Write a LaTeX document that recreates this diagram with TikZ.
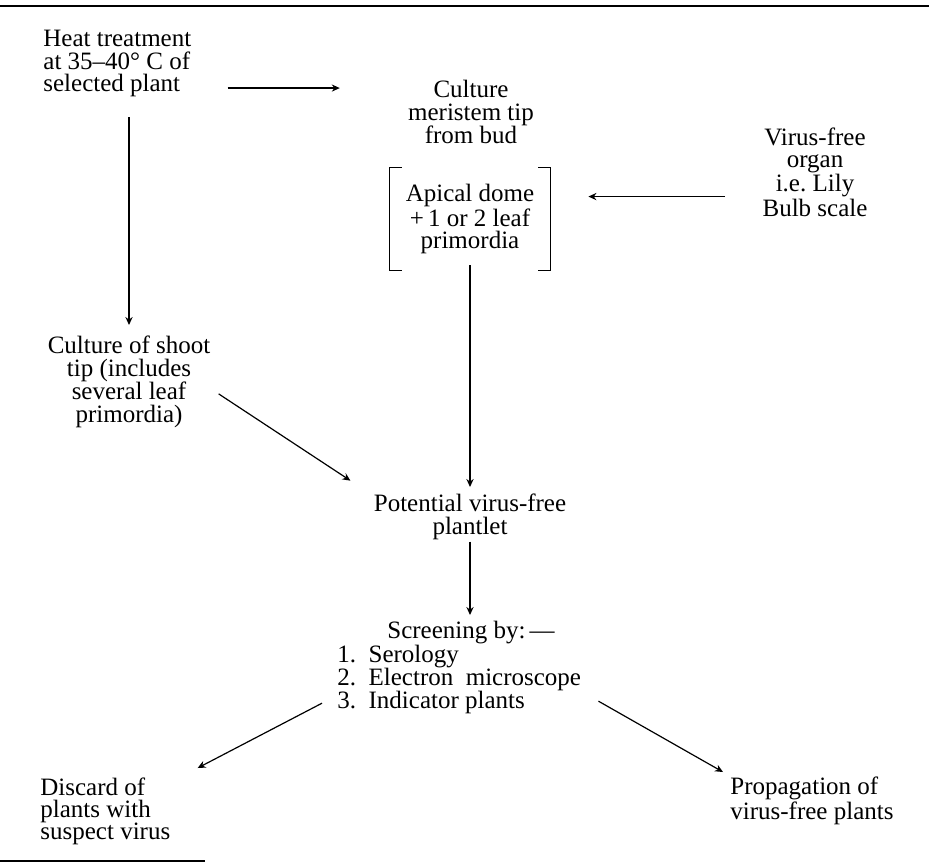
\documentclass[tikz,border=0pt]{standalone}
\usepackage{fontspec}
\setmainfont{Liberation Serif}
\usepackage{tikz}
\usetikzlibrary{positioning, arrows.meta}
\tikzset{
  txt/.style = {
    inner sep=0pt,
    align=center,
    font=\fontsize{12.5}{#1}\selectfont
  },
  txt/.default = 11.5,
  arrow/.style = {
    -{Stealth[length=4pt, width=3.6pt]},
    line width=0.6pt
  },
  brk/.style = {
    line width=0.6pt
  },
  rule/.style = {
    line width=1.2pt
  },
}

\begin{document}
\begin{tikzpicture}[x=0.5pt, y=-0.5pt]
    \useasboundingbox (0,0) rectangle (929,863);
    \draw[rule] (0,6) -- (929,6);
    \draw[rule] (0,861) -- (205,861);

    \node[txt=11.25, align=left, anchor=north west] (heat)    at (43,30)   {Heat treatment\\at 35--40° C of\\selected plant};
    \node[txt, anchor=north]                        (meri)    at (471,80)  {Culture\\meristem tip\\from bud};
    \node[txt=11, minimum width=80pt, minimum height=51pt] (dome) at (470,219) {Apical dome\\+\,1 or 2 leaf\\primordia};
    \node[txt=11, anchor=north]                     (organ)   at (815,127) {Virus-free\\organ\\i.e.\ Lily\\Bulb scale};
    \node[txt, anchor=north]                        (shoot)   at (129,335) {Culture of shoot\\tip (includes\\several leaf\\primordia)};
    \node[txt, anchor=north]                        (plant)   at (470,493) {Potential virus-free\\plantlet};
    \node[txt=11.7, align=left, anchor=north west]  (screen)  at (337,621) {\hspace*{25pt}Screening by:\,---\\1.\enspace Serology\\2.\enspace Electron\enspace microscope\\3.\enspace Indicator plants};
    \node[txt=11, align=left, anchor=north west]    (discard) at (40,777)  {Discard of\\plants with\\suspect virus};
    \node[txt=12.5, align=left, anchor=north west]  (prop)    at (730,776) {Propagation of\\virus-free plants};

    % brackets round the explant
    \draw[brk] ([xshift=6pt]dome.north west) -- (dome.north west) -- (dome.south west) -- ([xshift=6pt]dome.south west);
    \draw[brk] ([xshift=-6pt]dome.north east) -- (dome.north east) -- (dome.south east) -- ([xshift=-6pt]dome.south east);

    \draw[arrow, shorten <=18pt, shorten >=34pt] ([yshift=-12.15pt]heat.east) -- ([yshift=-12.15pt]heat.east -| meri.west);
    \draw[arrow, shorten <=10pt, shorten >=5pt] (heat.south -| shoot.north) -- (shoot.north);
    \draw[arrow, shorten <=18.5pt, shorten >=19pt] ([yshift=-12.25pt]organ.west) -- ([yshift=-12.25pt]organ.west -| dome.east);
    \draw[arrow, shorten >=3pt] ([yshift=2.5pt]dome.south) -- (plant.north);
    \draw[arrow] ([shift={(4pt,-6.25pt)}]shoot.east) -- ([shift={(-11.5pt,17.85pt)}]plant.west);
    \draw[arrow, shorten <=1pt, shorten >=3pt] (plant.south) -- (plant.south |- screen.north);
    \draw[arrow] ([shift={(-7.5pt,5.75pt)}]screen.south west) -- ([shift={(13.5pt,4.5pt)}]discard.north east);
    \draw[arrow] ([shift={(8.5pt,6.75pt)}]screen.south east) -- ([shift={(-3.5pt,2pt)}]prop.north west);
\end{tikzpicture}
\end{document}
